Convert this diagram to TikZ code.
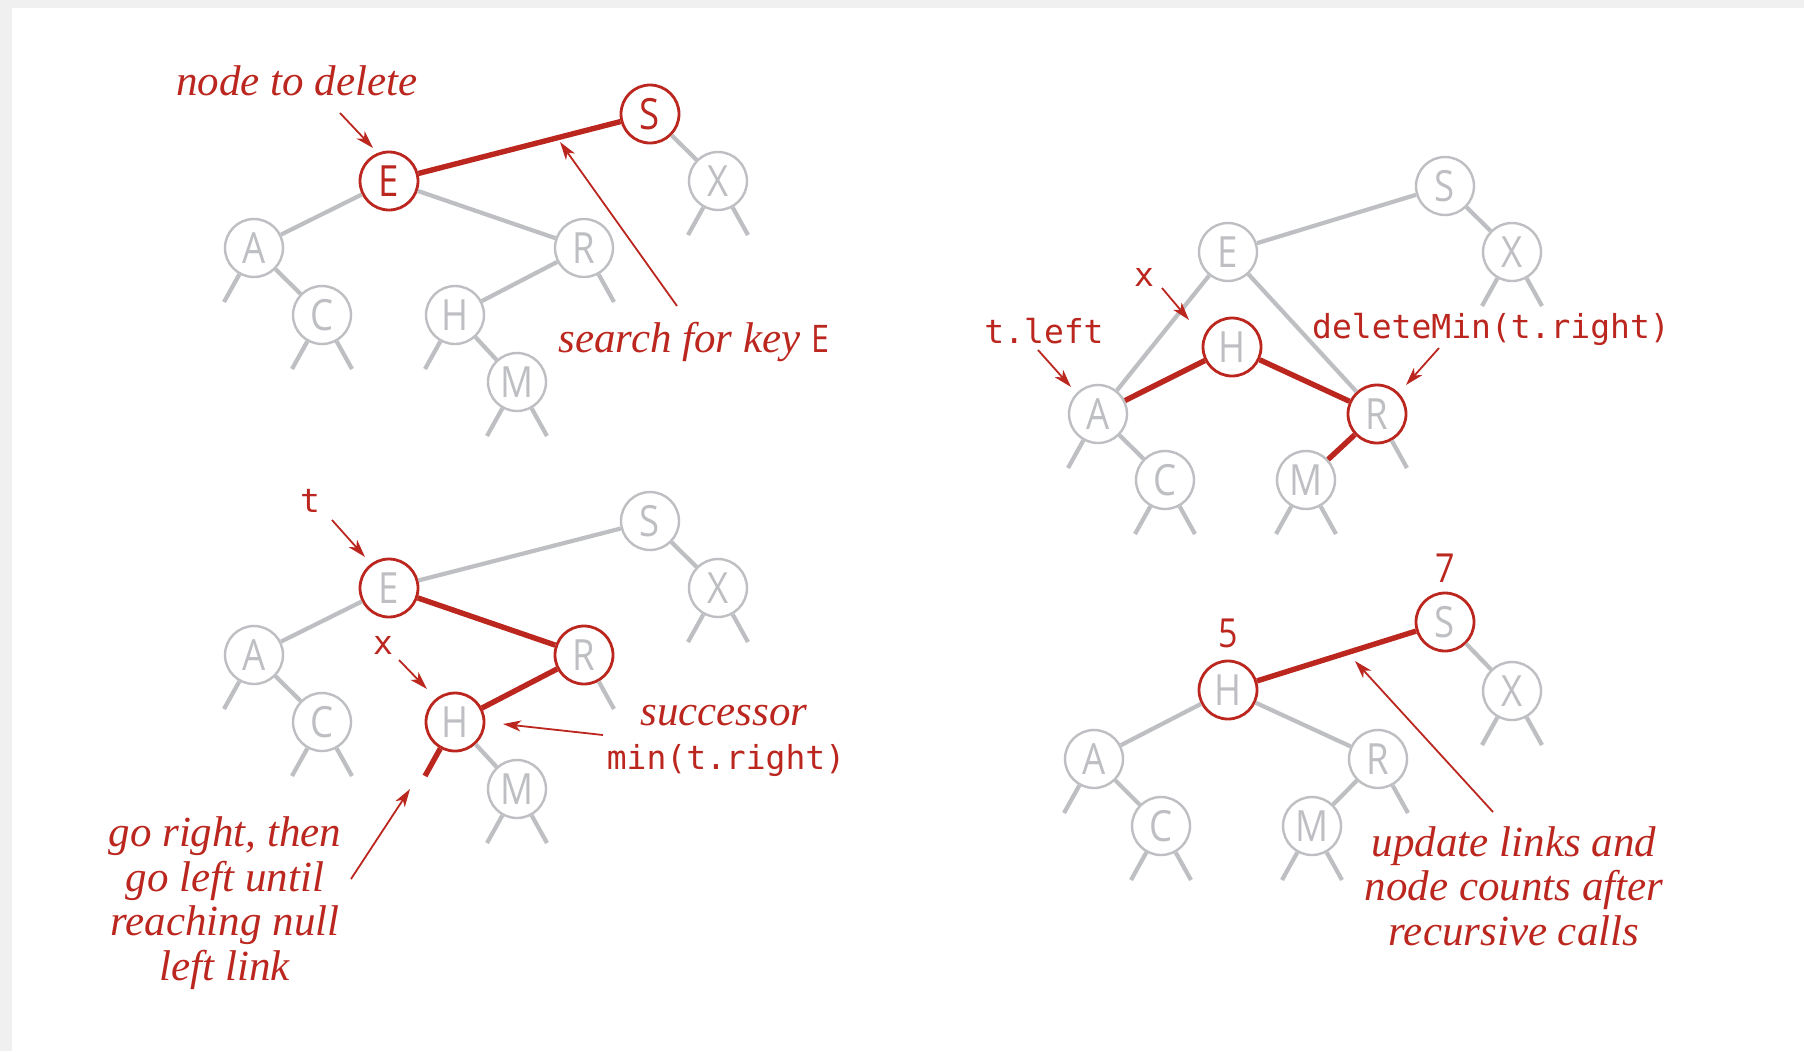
\documentclass[tikz,border=0pt]{standalone}
\usepackage{fontspec}
\usetikzlibrary{arrows.meta}
\definecolor{bookred}{RGB}{187,38,30}
\definecolor{linkgray}{RGB}{190,191,195}
\definecolor{pagegray}{RGB}{240,240,240}
\newfontfamily\keyfont[FakeStretch=0.85]{Open Sans}
\newfontfamily\notefont{Liberation Serif}
\newfontfamily\codefont{DejaVu Sans Mono}

\begin{document}
\begin{tikzpicture}[x=0.5pt,y=-0.5pt,
		key/.style={circle,draw=linkgray,fill=white,line width=1.2pt,minimum size=29pt,inner sep=0pt,text=linkgray,font=\keyfont\fontsize{21.5}{22}\selectfont},
		hot/.style={key,draw=bookred,line width=1.4pt},
		link/.style={draw=linkgray,line width=2.1pt},
		hotlink/.style={draw=bookred,line width=2.7pt},
		note/.style={text=bookred,inner sep=0pt,anchor=base,align=center,font=\notefont\itshape\fontsize{21.5}{22.2}\selectfont},
		code/.style={text=bookred,inner sep=0pt,anchor=base,font=\codefont\fontsize{16.5}{20}\selectfont},
		count/.style={text=bookred,inner sep=0pt,anchor=base,font=\keyfont\fontsize{20}{22}\selectfont},
		pointer/.style={draw=bookred,line width=0.9pt,-{Stealth[length=9pt,width=5.5pt,inset=2.5pt]}}]
		\useasboundingbox (0,0) rectangle (1804,1051);
		\fill[pagegray] (0,0) rectangle (1804,1051);
		\fill[white] (12,8) rectangle (1804,1051);

		% search for E
		\node[hot,text=bookred] (S1) at (650,114) {S};
		\node[hot,text=bookred] (E1) at (389,181) {E};
		\node[key] (X1) at (718,181) {X};
		\node[key] (A1) at (254,248) {A};
		\node[key] (R1) at (584,248) {R};
		\node[key] (C1) at (322,315) {C};
		\node[key] (H1) at (455,315) {H};
		\node[key] (M1) at (517,382) {M};

		\draw[hotlink] (E1) -- (S1);
		\draw[link] (S1) -- (X1);
		\draw[link] (E1) -- (A1);
		\draw[link] (E1) -- (R1);
		\draw[link] (A1) -- (C1);
		\draw[link] (R1) -- (H1);
		\draw[link] (H1) -- (M1);
		\draw[link] (A1) -- ++(-30,54) (C1) -- ++(-30,54) (C1) -- ++(30,54)
			(H1) -- ++(-30,54) (M1) -- ++(-30,54) (M1) -- ++(30,54)
			(R1) -- ++(30,54) (X1) -- ++(-30,54) (X1) -- ++(30,54);

		\node[note] (delete) at (297,95) {node to delete};
		\node[note] (search) at (694,352) {search for key {\upshape\keyfont\fontsize{19}{20}\selectfont E}};
		\coordinate (delete tail) at (340,113);
		\coordinate (delete tip) at (373,148);
		\coordinate (search tail) at (677,306);
		\coordinate (search tip) at (560,142);
		\draw[pointer] (delete tail) -- (delete tip);
		\draw[pointer] (search tail) -- (search tip);

		% deleteMin on the right subtree
		\node[key] (S2) at (1445,186) {S};
		\node[key] (E2) at (1228,252) {E};
		\node[key] (X2) at (1512,252) {X};
		\node[hot] (H2) at (1232,347) {H};
		\node[key] (A2) at (1098,414) {A};
		\node[hot] (R2) at (1377,414) {R};
		\node[key] (C2) at (1165,480) {C};
		\node[key] (M2) at (1306,480) {M};

		\draw[link] (S2) -- (E2);
		\draw[link] (S2) -- (X2);
		\draw[link] (E2) -- (A2);
		\draw[link] (E2) -- (R2);
		\draw[link] (A2) -- (C2);
		\draw[hotlink] (A2) -- (H2);
		\draw[hotlink] (H2) -- (R2);
		\draw[hotlink] (R2) -- (M2);
		\draw[link] (A2) -- ++(-30,54) (C2) -- ++(-30,54) (C2) -- ++(30,54)
			(M2) -- ++(-30,54) (M2) -- ++(30,54) (R2) -- ++(30,54)
			(X2) -- ++(-30,54) (X2) -- ++(30,54);

		\node[code] (x2) at (1144,286) {x};
		\node[code] (tleft) at (1044,343) {t.left};
		\node[code] (delmin) at (1491,338) {deleteMin(t.right)};
		\coordinate (x2 tail) at (1162,288);
		\coordinate (x2 tip) at (1189,320);
		\coordinate (tleft tail) at (1038,350);
		\coordinate (tleft tip) at (1071,387);
		\coordinate (delmin tail) at (1439,348);
		\coordinate (delmin tip) at (1406,385);
		\draw[pointer] (x2 tail) -- (x2 tip);
		\draw[pointer] (tleft tail) -- (tleft tip);
		\draw[pointer] (delmin tail) -- (delmin tip);

		% find the successor
		\node[key] (S3) at (650,521) {S};
		\node[hot] (E3) at (389,588) {E};
		\node[key] (X3) at (718,588) {X};
		\node[key] (A3) at (254,655) {A};
		\node[hot] (R3) at (584,655) {R};
		\node[key] (C3) at (322,722) {C};
		\node[hot] (H3) at (455,722) {H};
		\node[key] (M3) at (517,789) {M};

		\draw[link] (E3) -- (S3);
		\draw[link] (S3) -- (X3);
		\draw[link] (E3) -- (A3);
		\draw[hotlink] (E3) -- (R3);
		\draw[hotlink] (R3) -- (H3);
		\draw[link] (H3) -- (M3);
		\draw[link] (A3) -- (C3);
		\draw[hotlink] (H3) -- ++(-30,54);
		\draw[link] (A3) -- ++(-30,54) (C3) -- ++(-30,54) (C3) -- ++(30,54)
			(M3) -- ++(-30,54) (M3) -- ++(30,54) (R3) -- ++(30,54)
			(X3) -- ++(-30,54) (X3) -- ++(30,54);

		\node[code] (t3) at (310,512) {t};
		\node[code] (x3) at (383,654) {x};
		\node[note] (succ) at (724,725) {successor};
		\node[code] (minright) at (726,769) {min(t.right)};
		\node[note] (goright) at (225,980) {go right, then\\go left until\\reaching null\\left link};
		\coordinate (t3 tail) at (332,520);
		\coordinate (t3 tip) at (365,557);
		\coordinate (x3 tail) at (399,660);
		\coordinate (x3 tip) at (427,689);
		\coordinate (succ tail) at (603,735);
		\coordinate (succ tip) at (503,724);
		\coordinate (goright tail) at (351,879);
		\coordinate (goright tip) at (410,789);
		\draw[pointer] (t3 tail) -- (t3 tip);
		\draw[pointer] (x3 tail) -- (x3 tip);
		\draw[pointer] (succ tail) -- (succ tip);
		\draw[pointer] (goright tail) -- (goright tip);

		% after the recursive calls
		\node[hot] (S4) at (1445,622) {S};
		\node[hot] (H4) at (1228,690) {H};
		\node[key] (X4) at (1512,691) {X};
		\node[key] (A4) at (1094,759) {A};
		\node[key] (R4) at (1378,759) {R};
		\node[key] (C4) at (1161,826) {C};
		\node[key] (M4) at (1312,826) {M};

		\draw[hotlink] (H4) -- (S4);
		\draw[link] (S4) -- (X4);
		\draw[link] (H4) -- (A4);
		\draw[link] (H4) -- (R4);
		\draw[link] (A4) -- (C4);
		\draw[link] (R4) -- (M4);
		\draw[link] (A4) -- ++(-30,54) (C4) -- ++(-30,54) (C4) -- ++(30,54)
			(M4) -- ++(-30,54) (M4) -- ++(30,54) (R4) -- ++(30,54)
			(X4) -- ++(-30,54) (X4) -- ++(30,54);

		\node[count] (count5) at (1228,647) {5};
		\node[count] (count7) at (1445,582) {7};
		\node[note] (update) at (1514,945) {update links and\\node counts after\\recursive calls};
		\coordinate (update tail) at (1493,812);
		\coordinate (update tip) at (1355,661);
		\draw[pointer] (update tail) -- (update tip);
	\end{tikzpicture}
\end{document}
